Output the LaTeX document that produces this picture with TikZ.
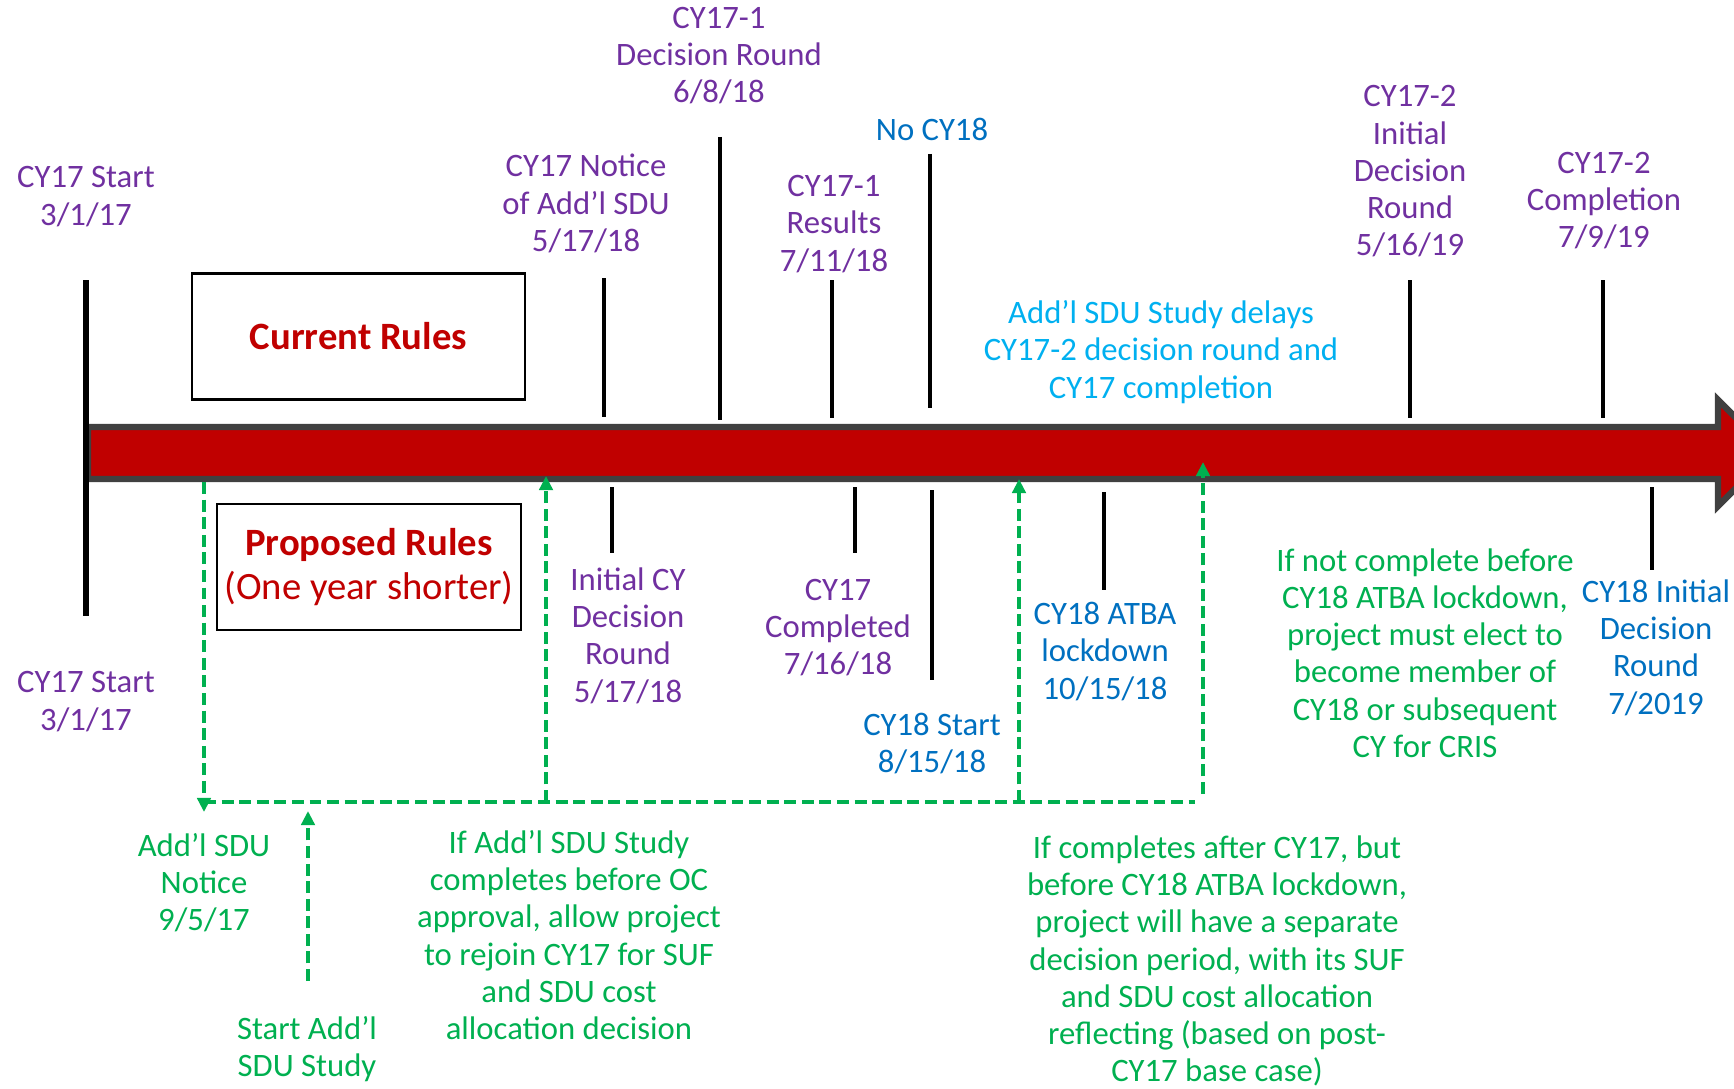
\documentclass[tikz,border=0pt]{standalone}
\usepackage{fontspec}
\setmainfont{Carlito}
\usetikzlibrary{arrows.meta}
\definecolor{tlred}{HTML}{C00000}
\definecolor{tlgray}{HTML}{404040}
\definecolor{tlpurple}{HTML}{7030A0}
\definecolor{tlblue}{HTML}{0070C0}
\definecolor{tlcyan}{HTML}{00B0F0}
\definecolor{tlgreen}{HTML}{00B050}

\begin{document}
\begin{tikzpicture}[x=0.01cm,y=-0.01cm,
  lbl/.style={align=center,inner sep=0pt,font=\fontsize{9.3}{10.6}\selectfont},
  rulebox/.style={draw,line width=0.6pt,inner sep=0pt,align=center,text=tlred,
    font=\fontsize{11}{12.5}\selectfont},
  tick/.style={line width=1.4pt},
  gpath/.style={tlgreen,line width=1.4pt,dash pattern=on 3.4pt off 1.6pt},
  garrow/.style={gpath,-{Triangle[length=4pt,width=3.8pt]}}]
\useasboundingbox (0,0) rectangle (1734,1088);

% timeline arrow
\draw[tlgray,line width=1.8pt,fill=tlred,line join=miter]
  (88,427) -- (1718,427) -- (1718,400) -- (1771,453) -- (1718,506) -- (1718,479) -- (88,479) -- cycle;
\draw[line width=1.6pt] (86,280) -- (86,616);

% ticks above and below
\foreach \x/\a/\b in {604/278/417, 720/137/420, 832/280/418, 930/154/408, 1410/280/418, 1603/280/418,
    612/487/553, 855/487/553, 932/490/680, 1104/492/590, 1652/487/570}
  \draw[tick] (\x,\a) -- (\x,\b);

% rule boxes
\node[rulebox,minimum width=3.33cm,minimum height=1.26cm] (current) at (358.5,336.5) {\bfseries Current Rules};
\node[rulebox,minimum width=3.04cm,minimum height=1.26cm] (proposed) at (369,567)
  {\textbf{Proposed Rules}\\(One year shorter)};

% labels above
\node[lbl,text=tlpurple] (startA) at (86,196.5) {CY17 Start\\3/1/17};
\node[lbl,text=tlpurple] (notice) at (586,203.5) {CY17 Notice\\of Add’l SDU\\5/17/18};
\node[lbl,text=tlpurple] (round1) at (719,55.5) {CY17-1\\Decision Round\\6/8/18};
\node[lbl,text=tlpurple] (results) at (834,224) {CY17-1\\Results\\7/11/18};
\node[lbl,text=tlblue] (nocy) at (932,129) {No CY18};
\node[lbl,text=tlpurple] (round2) at (1410,171.5) {CY17-2\\Initial\\Decision\\Round\\5/16/19};
\node[lbl,text=tlpurple] (complete) at (1604,200.5) {CY17-2\\Completion\\7/9/19};
\node[lbl,text=tlcyan] (delays) at (1161,352) {Add’l SDU Study delays\\CY17-2 decision round and\\CY17 completion};

% labels below
\node[lbl,text=tlpurple] (startB) at (86,701.5) {CY17 Start\\3/1/17};
\node[lbl,text=tlpurple] (initcy) at (628,635.5) {Initial CY\\Decision\\Round\\5/17/18};
\node[lbl,text=tlpurple] (done) at (838,627.5) {CY17\\Completed\\7/16/18};
\node[lbl,text=tlblue] (start18) at (932,743.5) {CY18 Start\\8/15/18};
\node[lbl,text=tlblue] (atba) at (1105,651.5) {CY18 ATBA\\lockdown\\10/15/18};
\node[lbl,text=tlblue] (init18) at (1656,647.5) {CY18 Initial\\Decision\\Round\\7/2019};
\node[lbl,text=tlgreen] (elect) at (1425,653) {If not complete before\\CY18 ATBA lockdown,\\project must elect to\\become member of\\CY18 or subsequent\\CY for CRIS};
\node[lbl,text=tlgreen] (sdunote) at (204,882.5) {Add’l SDU\\Notice\\9/5/17};
\node[lbl,text=tlgreen] (sdustart) at (307,1049) {Start Add’l\\SDU Study};
\node[lbl,text=tlgreen] (rejoin) at (569,935) {If Add’l SDU Study\\completes before OC\\approval, allow project\\to rejoin CY17 for SUF\\and SDU cost\\allocation decision};
\node[lbl,text=tlgreen] (separate) at (1217,961) {If completes after CY17, but\\before CY18 ATBA lockdown,\\project will have a separate\\decision period, with its SUF\\and SDU cost allocation\\reflecting (based on post-\\CY17 base case)};

% green study paths
\coordinate (sduTop) at (204,482);
\coordinate (sduEnd) at (204,812);
\coordinate (baseL) at (204,802);
\coordinate (baseR) at (1195,802);
\coordinate (rejoinB) at (546,802);
\coordinate (rejoinT) at (546,476);
\coordinate (sepB) at (1019,802);
\coordinate (sepT) at (1019,479);
\coordinate (lockB) at (1203,794);
\coordinate (lockT) at (1203,462);
\coordinate (studyB) at (308,981);
\coordinate (studyT) at (308,811);
\draw[garrow] (sduTop) -- (sduEnd);
\draw[gpath] (baseL) -- (baseR);
\draw[garrow] (rejoinB) -- (rejoinT);
\draw[garrow] (sepB) -- (sepT);
\draw[garrow] (lockB) -- (lockT);
\draw[garrow] (studyB) -- (studyT);
\end{tikzpicture}
\end{document}
